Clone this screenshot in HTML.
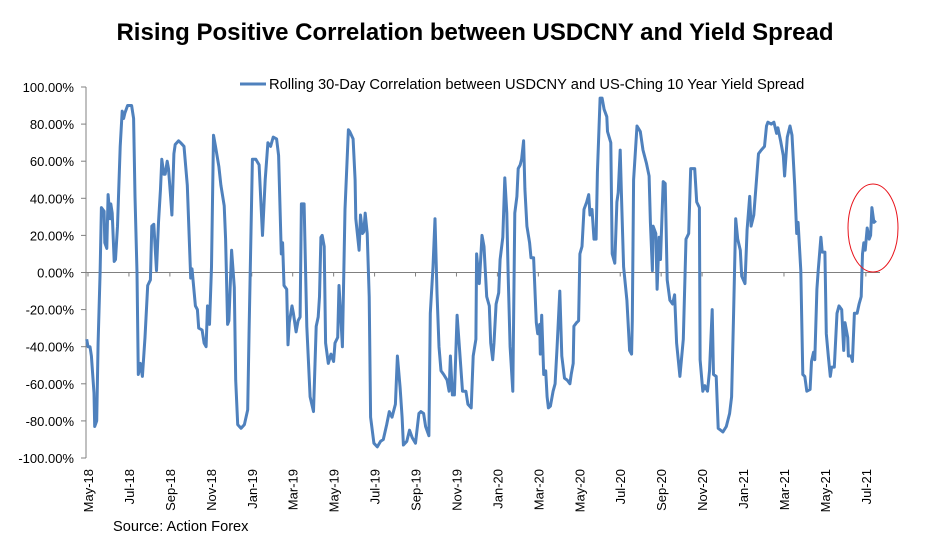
<!DOCTYPE html>
<html><head><meta charset="utf-8"><style>
body{margin:0;background:#fff;width:948px;height:542px;overflow:hidden;font-family:"Liberation Sans",Arial,sans-serif}
svg{display:block}
</style></head><body>
<svg id="chart" width="948" height="542">
<text x="475" y="40" text-anchor="middle" font-size="24" font-weight="bold">Rising Positive Correlation between USDCNY and Yield Spread</text>
<g>
<line x1="240" y1="84" x2="266" y2="84" stroke="#4F81BD" stroke-width="3"/>
<text x="269" y="89" font-size="14.7">Rolling 30-Day Correlation between USDCNY and US-Ching 10 Year Yield Spread</text>
</g>
<text x="113" y="531" font-size="14.6">Source: Action Forex</text>
<g id="axes"></g>
<path id="series" fill="none" stroke="#4F81BD" stroke-width="3" stroke-linejoin="round"/>
<ellipse cx="873" cy="228" rx="25" ry="44" fill="none" stroke="#E8141C" stroke-width="1"/>
</svg>
<script>
const tickLabels=["May-18","Jul-18","Sep-18","Nov-18","Jan-19","Mar-19","May-19","Jul-19","Sep-19","Nov-19","Jan-20","Mar-20","May-20","Jul-20","Sep-20","Nov-20","Jan-21","Mar-21","May-21","Jul-21"];
const yTicks=[1,0.8,0.6,0.4,0.2,0,-0.2,-0.4,-0.6,-0.8,-1];
const days=[-2,0,3,5,9,10,13,15,18,20,24,25,28,30,33,34,36,39,41,44,48,51,53,55,59,65,68,70,73,75,78,81,85,89,93,95,98,102,105,108,110,113,115,118,120,123,125,128,130,135,138,143,148,153,155,160,163,165,170,173,176,178,181,184,187,190,195,198,203,205,208,210,214,218,220,223,228,233,238,240,245,250,255,260,264,268,272,276,281,284,288,290,292,296,298,300,304,306,310,313,316,318,322,326,328,331,336,340,343,345,347,349,352,354,358,362,366,368,372,374,377,379,383,388,
390,395,398,399,404,406,409,411,413,416,419,421,426,431,436,440,445,449,453,458,461,465,468,470,475,479,483,488,493,496,500,503,508,510,514,517,520,523,526,530,535,538,540,543,546,550,553,558,563,566,571,574,578,579,583,587,590,594,598,600,603,605,608,612,614,618,621,624,626,629,633,636,639,641,644,646,649,651,654,658,660,664,668,670,673,674,676,679,682,684,686,689,693,696,699,703,706,710,714,718,720,723,724,728,731,733,736,739,743,746,748,751,754,757,759,763,766,769,773,774,779,781,785,788,790,793,795,798,803,807,810,
811,813,818,823,827,832,836,838,841,842,846,848,851,853,857,860,863,867,871,874,877,882,887,891,895,898,904,907,911,912,916,919,923,926,930,932,936,939,946,951,956,959,962,965,968,972,974,979,982,986,988,992,996,999,1003,1008,1011,1013,1018,1022,1026,1028,1032,1036,1038,1042,1046,1049,1053,1056,1058,1062,1065,1068,1071,1076,1078,1081,1083,1086,1088,1092,1094,1098,1100,1103,1106,1108,1112,1116,1119,1123,1126,1128,1132,1133,1137,1139,1142,1146,1149,1152,1154,1156,1158,1161,1164,1166,1168,1171,1174];
const values=[-0.36,-0.40,-0.40,-0.45,-0.65,-0.83,-0.80,-0.38,0,0.35,0.33,0.16,0.13,0.42,0.29,0.37,0.32,0.06,0.07,0.25,0.68,0.87,0.83,0.86,0.90,0.90,0.83,0.41,0,-0.55,-0.49,-0.56,-0.35,-0.07,-0.04,0.25,0.26,0.01,0.27,0.45,0.61,0.53,0.53,0.60,0.56,0.41,0.31,0.64,0.69,0.71,0.70,0.68,0.47,-0.03,0.02,-0.18,-0.20,-0.30,-0.31,-0.38,-0.40,-0.18,-0.28,0.03,0.74,0.68,0.57,0.47,0.36,0.18,-0.28,-0.26,0.12,-0.08,-0.58,-0.82,-0.84,-0.82,-0.74,-0.31,0.61,0.61,0.58,0.20,0.50,0.70,0.68,0.73,0.72,0.63,0.10,0.16,-0.07,-0.09,-0.39,-0.27,-0.18,-0.22,-0.32,-0.26,-0.24,0.37,0.37,-0.29,-0.44,-0.67,-0.75,-0.29,-0.24,-0.13,0.19,0.20,0.14,-0.38,-0.49,-0.44,-0.48,-0.38,-0.35,-0.07,-0.26,-0.40,0.34,0.77,
0.76,0.72,0.50,0.29,0.12,0.31,0.21,0.22,0.32,0.21,-0.13,-0.78,-0.92,-0.94,-0.91,-0.90,-0.82,-0.75,-0.78,-0.71,-0.45,-0.62,-0.78,-0.93,-0.91,-0.85,-0.89,-0.92,-0.76,-0.75,-0.76,-0.83,-0.88,-0.22,0.03,0.29,-0.11,-0.40,-0.53,-0.55,-0.58,-0.64,-0.45,-0.66,-0.66,-0.23,-0.38,-0.64,-0.64,-0.71,-0.73,-0.45,-0.36,0.10,-0.06,0.20,0.14,-0.13,-0.18,-0.38,-0.47,-0.38,-0.17,-0.11,0.07,0.19,0.51,0.32,0,-0.40,-0.64,0.32,0.41,0.56,0.58,0.61,0.71,0.45,0.25,0.16,0.08,0.08,-0.27,-0.33,-0.28,-0.44,-0.23,-0.55,-0.53,-0.67,-0.73,-0.72,-0.64,-0.60,-0.40,-0.10,-0.45,-0.57,-0.58,-0.60,-0.55,-0.49,-0.29,-0.27,-0.26,0.10,0.14,0.34,0.38,0.42,0.31,0.34,0.18,0.18,0.54,0.94,0.94,0.88,0.84,0.76,0.70,0.10,0.05,0.38,0.43,0.66,0.39,0.03,-0.15,-0.42,-0.44,
-0.26,0.50,0.79,0.76,0.66,0.59,0.52,0.27,0.01,0.25,0.21,-0.09,0.19,0.07,0.49,0.48,-0.04,-0.15,-0.17,-0.12,-0.38,-0.56,-0.36,0.18,0.21,0.56,0.56,0.38,0.35,-0.47,-0.64,-0.61,-0.64,-0.53,-0.20,-0.55,-0.56,-0.84,-0.86,-0.83,-0.76,-0.67,-0.22,0.29,0.18,0.12,-0.02,-0.06,0.23,0.41,0.25,0.31,0.50,0.64,0.66,0.68,0.79,0.81,0.80,0.81,0.75,0.78,0.71,0.63,0.52,0.73,0.79,0.74,0.47,0.21,0.27,0.01,-0.55,-0.56,-0.64,-0.63,-0.48,-0.43,-0.47,-0.09,0.01,0.19,0.11,0.11,-0.33,-0.45,-0.56,-0.51,-0.51,-0.22,-0.18,-0.20,-0.42,-0.27,-0.35,-0.45,-0.45,-0.48,-0.22,-0.22,-0.17,-0.13,0.10,0.16,0.12,0.24,0.18,0.20,0.35,0.27,0.28];
const X0=88,DAYS_PER_PX=1.49,DAYS_PER_TICK=61;
function xs(d){return X0+d/DAYS_PER_PX;}
function ys(v){return 272.5-v*185.5;}
const NS="http://www.w3.org/2000/svg";
const ax=document.getElementById('axes');
function mk(tag,attrs){const e=document.createElementNS(NS,tag);for(const k in attrs)e.setAttribute(k,attrs[k]);ax.appendChild(e);return e;}
let yl=mk('line',{x1:86,y1:ys(1),x2:86,y2:ys(-1),stroke:'#808080','stroke-width':1});


yTicks.forEach(v=>{
  let t=mk('line',{x1:81,y1:ys(v),x2:86,y2:ys(v),stroke:'#808080'});
  
  
  let l=mk('text',{x:74,y:ys(v)+5,'text-anchor':'end','font-size':13});
  l.textContent=(v*100).toFixed(2)+'%';
  
  
});
let zl=mk('line',{x1:86,y1:ys(0),x2:880,y2:ys(0),stroke:'#808080','stroke-width':1});


tickLabels.forEach((lab,i)=>{
  const x=xs(i*DAYS_PER_TICK);
  let t=mk('line',{x1:x,y1:ys(0),x2:x,y2:ys(0)+4,stroke:'#808080'});
  
  
  let l=mk('text',{x:0,y:0,'text-anchor':'end','font-size':13,transform:`translate(${x+5},469) rotate(-90)`});
  l.textContent=lab;
  
  
});
document.getElementById('series').setAttribute('d',days.map((d,i)=>(i?'L':'M')+xs(d).toFixed(1)+' '+ys(values[i]).toFixed(1)).join(''));
</script>
</body></html>
